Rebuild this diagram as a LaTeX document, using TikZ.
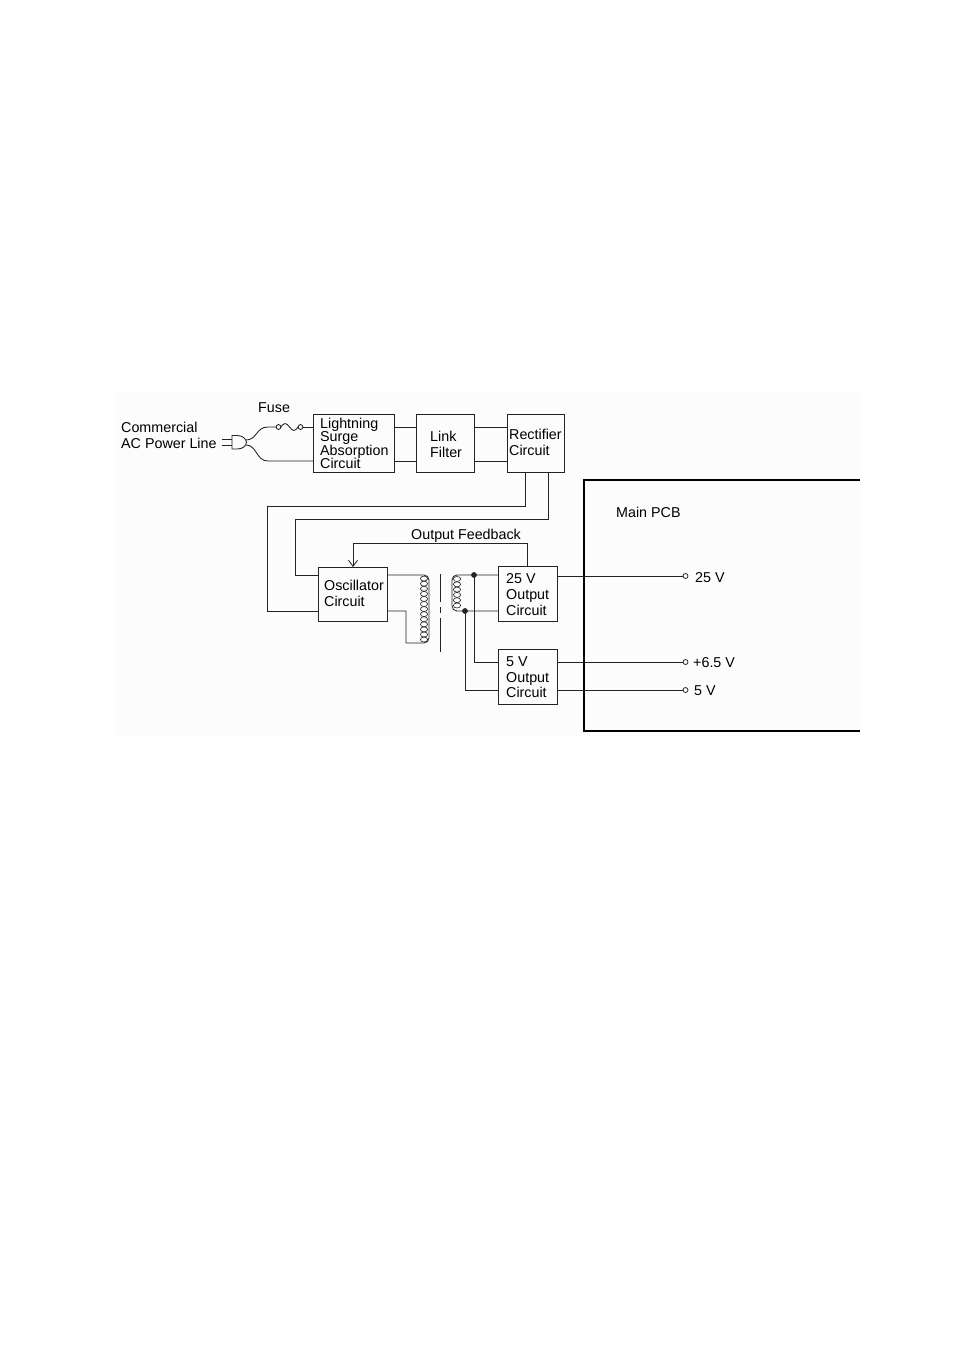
\documentclass[tikz,border=0pt]{standalone}
\usepackage{fontspec}
\setmainfont{Liberation Sans}
\usetikzlibrary{arrows.meta}
\definecolor{bgc}{RGB}{252,252,252}
\definecolor{wirec}{RGB}{35,35,35}
\begin{document}
\begin{tikzpicture}[x=1pt,y=-1pt,
  box/.style={draw=wirec, line width=0.85pt, inner sep=0pt, outer sep=0pt, anchor=north west},
  lbl/.style={anchor=base west, inner sep=0pt, font=\fontsize{14.3}{16}\selectfont},
  wire/.style={draw=wirec, line width=0.85pt},
  coil/.style={draw=wirec, line width=0.6pt}]
\useasboundingbox (0,0) rectangle (954,1351);
\fill[bgc] (116,392) rectangle (860,737);

% boxes
\node[box, minimum width=81pt, minimum height=58pt] (lsa) at (313,414) {};
\node[box, minimum width=58pt, minimum height=58pt] (link) at (416,414) {};
\node[box, minimum width=57pt, minimum height=58pt] (rect) at (507,414) {};
\node[box, minimum width=69pt, minimum height=54pt] (osc) at (318,567) {};
\node[box, minimum width=59pt, minimum height=55pt] (o25) at (498,566) {};
\node[box, minimum width=59pt, minimum height=55pt] (o5) at (498,649) {};

% texts
\node[lbl] at (121,432) {Commercial};
\node[lbl] at (121,448) {AC Power Line};
\node[lbl] at (258,412) {Fuse};
\node[lbl] at (320,428) {Lightning};
\node[lbl] at (320,441.5) {Surge};
\node[lbl] at (320,455) {Absorption};
\node[lbl] at (320,468.5) {Circuit};
\node[lbl] at (430,441) {Link};
\node[lbl] at (430,457) {Filter};
\node[lbl] at (509,439) {Rectifier};
\node[lbl] at (509,455) {Circuit};
\node[lbl] at (324,590) {Oscillator};
\node[lbl] at (324,606) {Circuit};
\node[lbl] at (411,539) {Output Feedback};
\node[lbl] at (506,583) {25 V};
\node[lbl] at (506,599) {Output};
\node[lbl] at (506,615) {Circuit};
\node[lbl] at (506,666) {5 V};
\node[lbl] at (506,682) {Output};
\node[lbl] at (506,697) {Circuit};
\node[lbl] at (616,517) {Main PCB};
\node[lbl] at (695,582) {25 V};
\node[lbl] at (693,667) {+6.5 V};
\node[lbl] at (694,695) {5 V};

% main PCB frame (open at right)
\draw[line width=2.4pt, line join=miter] (860,480) -- (584,480) -- (584,731) -- (860,731);

% plug
\draw[wire] (222,439) -- (232,439);
\draw[wire] (222,445.5) -- (232,445.5);
\draw[wire] (232,435.5) -- (237,435.5) .. controls (243,435.5) and (246,439) .. (246.5,442.3)
  .. controls (246,446) and (243,449) .. (237,449) -- (232,449) -- cycle;

% fuse
\coordinate (f1) at (278.5,427);
\coordinate (f2) at (300.5,427);
\draw[wire] (f1) circle (2.4);
\draw[wire] (f2) circle (2.4);
\draw[wire] (246,440) .. controls (257,440) and (256,427) .. (268,427) -- ([xshift=-2.4pt]f1);
\draw[wire] ([xshift=2.4pt]f1) sin (285,423.5) cos (289.5,427) sin (294,430.5) cos (298.1,427);
\draw[wire] ([xshift=2.4pt]f2) -- (lsa.west |- f2);
\draw[wire] (246,445) .. controls (257,445) and (256,461) .. (268,461) -- (lsa.west |- 0,461);

% chain links
\draw[wire] (lsa.east |- 0,427) -- (link.west |- 0,427);
\draw[wire] (lsa.east |- 0,461) -- (link.west |- 0,461);
\draw[wire] (link.east |- 0,427) -- (rect.west |- 0,427);
\draw[wire] (link.east |- 0,461) -- (rect.west |- 0,461);

% rectifier to oscillator
\draw[wire] (rect.south -| 525,0) -- (525,506) -- (267,506) -- (267,611) -- (osc.west |- 0,611);
\draw[wire] (rect.south -| 548,0) -- (548,519) -- (295,519) -- (295,575) -- (osc.west |- 0,575);

% output feedback
\draw[wire, -{Straight Barb[length=6pt,width=9pt,line width=0.85pt]}] (o25.north -| 527,0) -- (527,543) -- (353,543) -- (osc.north -| 353,0);

% primary winding
\draw[wire] (osc.east |- 0,575) -- (424,575) to[out=0,in=90] (429,580) -- (429,638)
  to[out=-90,in=0] (424,643) -- (406,643) -- (406,611) -- (osc.east |- 0,611);
\foreach \i in {0,...,12} \draw[coil] (424,578.6+\i*5.08) ellipse [x radius=3.6pt, y radius=2.5pt];

% core
\draw[wire] (440,574) -- (440,602);
\draw[wire] (440,607) -- (440,613);
\draw[wire] (440,618) -- (440,652);

% secondary winding
\draw[wire] (o25.west |- 0,575) -- (457,575) to[out=180,in=90] (452,580) -- (452,606)
  to[out=-90,in=180] (457,611) -- (o25.west |- 0,611);
\foreach \i in {0,...,5} \draw[coil] (457,579+\i*5.3) ellipse [x radius=3.6pt, y radius=2.5pt];

% junctions to 5 V circuit
\coordinate (j1) at (474,575);
\coordinate (j2) at (465,611);
\fill[wirec] (j1) circle (2.9);
\fill[wirec] (j2) circle (2.9);
\draw[wire] (j1) -- (474,662) -- (o5.west |- 0,662);
\draw[wire] (j2) -- (465,690) -- (o5.west |- 0,690);

% outputs
\coordinate (t25) at (685.5,576);
\coordinate (t65) at (685.5,662);
\coordinate (t5) at (685.5,690);
\foreach \t in {t25,t65,t5} \draw[wire, line width=0.75pt] (\t) circle (2.5);
\draw[wire] (o25.east |- t25) -- ([xshift=-2.5pt]t25);
\draw[wire] (o5.east |- t65) -- ([xshift=-2.5pt]t65);
\draw[wire] (o5.east |- t5) -- ([xshift=-2.5pt]t5);
\end{tikzpicture}
\end{document}
